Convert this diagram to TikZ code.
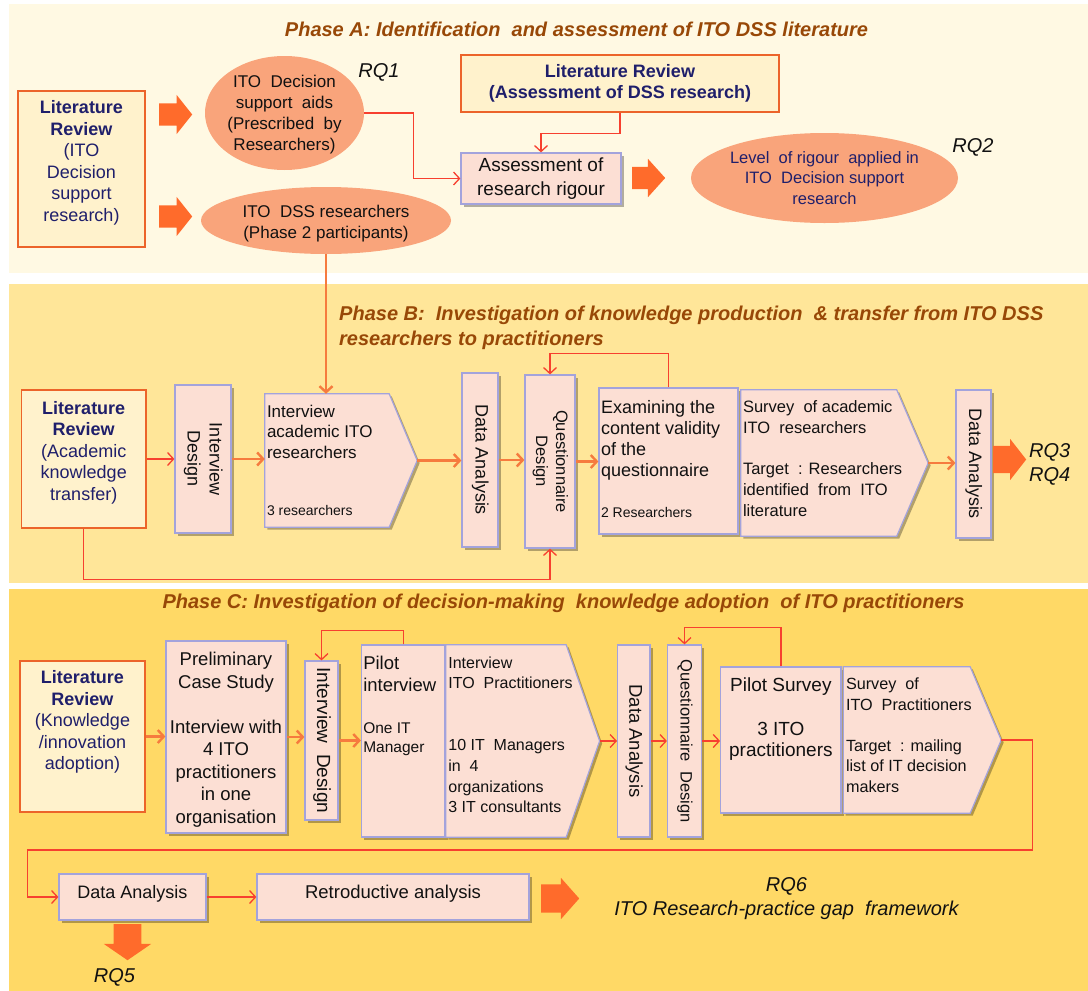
\documentclass[tikz,border=0pt]{standalone}
\usepackage{fontspec}
\setmainfont{Liberation Sans}
\usepackage{graphicx}
\usetikzlibrary{shapes.geometric,shapes.arrows,arrows.meta,shadows,calc}

\definecolor{panelA}{HTML}{FFF9E3}
\definecolor{panelB}{HTML}{FFE699}
\definecolor{panelC}{HTML}{FFD966}
\definecolor{litfill}{HTML}{FFF2CC}
\definecolor{litedge}{HTML}{EC642A}
\definecolor{procfill}{HTML}{FCDFD4}
\definecolor{procedge}{HTML}{A3A3DC}
\definecolor{ellfill}{HTML}{F9A47B}
\definecolor{arrowfill}{HTML}{FF6B2B}
\definecolor{olinec}{HTML}{F67B3E}
\definecolor{rlinec}{HTML}{F7402F}
\definecolor{titlec}{HTML}{984807}
\definecolor{navy}{HTML}{1F1F6B}
\definecolor{ink}{HTML}{111111}

% font size shorthand
\newcommand\fsz[2]{\fontsize{#1}{#2}\selectfont}
% fixed-size text block: width, height, first-baseline offset, alignment, text
\newcommand\bt[5]{\parbox[c][#2][t]{#1}{#4\rule{0pt}{#3}#5}}
% text running top to bottom
\newcommand\vtx[1]{\rotatebox{-90}{\begin{tabular}{@{}c@{}}#1\end{tabular}}}

\begin{document}
\begin{tikzpicture}[x=1pt,y=-1pt,
  litbox/.style={rectangle, draw=litedge, line width=1.6pt, fill=litfill, inner sep=0pt, text=navy, font=\fsz{18}{21.6}},
  proc/.style={rectangle, draw=procedge, line width=1.2pt, fill=procfill, inner sep=0pt, text=ink,
    drop shadow={shadow xshift=2.5pt, shadow yshift=-2.5pt, opacity=0.3, fill=black}},
  chev/.style={rectangle, inner sep=0pt},
  chevfill/.style={draw=procedge, line width=1.2pt, fill=procfill,
    drop shadow={shadow xshift=2.5pt, shadow yshift=-2.5pt, opacity=0.3, fill=black}},
  chevtext/.style={anchor=north west, inner sep=0pt, text=ink},
  ell/.style={ellipse, fill=ellfill, inner sep=0pt},
  barrow/.style={single arrow, fill=arrowfill, draw=none, inner xsep=0pt, anchor=tail},
  rq/.style={font=\fsz{20}{24}\itshape, text=ink, align=center, inner sep=0pt},
  phasetitle/.style={font=\fsz{20}{25}\bfseries\itshape, text=titlec, inner sep=0pt, align=left},
  olink/.style={draw=olinec, line width=2.4pt, -{Straight Barb[length=6pt,width=13pt]}},
  rlink/.style={draw=rlinec, line width=1.3pt, -{Straight Barb[length=6pt,width=13pt]}}
]
\useasboundingbox (0,0) rectangle (1088,991);
\fill[white] (0,0) rectangle (1088,991);

% phase panels
\fill[panelA] (9,4) rectangle (1088,273);
\fill[panelB] (9,284) rectangle (1088,583);
\fill[panelC] (9,589) rectangle (1088,991);

% ---------------- Phase A ----------------
\node[phasetitle] (tA) at (576.5,29) {Phase A: Identification\ \ and assessment of ITO DSS literature};

\node[litbox, minimum width=127pt, minimum height=156pt] (litA) at (81.5,169)
  {\bt{127pt}{156pt}{22.5pt}{\centering}{\textbf{Literature}\\\textbf{Review}\\(ITO\\Decision\\support\\research)}};

\node[barrow, inner ysep=11pt, single arrow head extend=8.5pt, single arrow tip angle=103, minimum height=33pt] (bA1) at (159,114.5) {};
\node[barrow, inner ysep=11pt, single arrow head extend=8.5pt, single arrow tip angle=103, minimum height=33pt] (bA2) at (159,216.5) {};

\node[ell, minimum width=159pt, minimum height=114pt] (eA1) at (284.5,113) {};
\node[font=\fsz{17}{20.8}, align=center, text=ink, inner sep=0pt] (eA1t) at ($(eA1.center)+(0,1.5)$)
  {ITO\ \ Decision\\support\ \ aids\\(Prescribed\ \ by\\Researchers)};
\node[rq] (rq1) at (379,72) {RQ1};

\node[ell, minimum width=250pt, minimum height=67pt] (eA2) at (326,220.5) {};
\node[font=\fsz{17}{21}, align=center, text=ink, inner sep=0pt] (eA2t) at ($(eA2.center)+(0,3)$)
  {ITO\ \ DSS researchers\\(Phase 2 participants)};

\node[litbox, minimum width=318pt, minimum height=57pt, font=\fsz{18}{20.4}\bfseries, align=center] (litA2) at (620,83.5)
  {Literature Review\\(Assessment of DSS research)};

\node[proc, minimum width=160pt, minimum height=51pt, font=\fsz{19}{24}, align=center] (assess) at (541,178.5)
  {Assessment of\\research rigour};

\node[barrow, inner ysep=10.85pt, single arrow head extend=8.15pt, single arrow tip angle=96, minimum height=33pt] (bA3) at (632,178) {};

\node[ell, minimum width=267pt, minimum height=90pt] (eA3) at (824.5,178) {};
\node[font=\fsz{16.5}{20.7}, align=center, text=navy, inner sep=0pt] (eA3t) at (eA3.center)
  {Level\ \ of rigour\ \ applied in\\ITO\ \ Decision support\\research};
\node[rq] (rq2) at (973,147) {RQ2};

\draw[rlink] (eA1.east) -- ++(49,0) |- (assess.west);
\draw[rlink] (litA2.south) -- ++(0,21) -| (assess.north);

% ---------------- Phase B ----------------
\node[phasetitle, anchor=west] (tB) at (339,327.5)
  {Phase B:\ \ Investigation of knowledge production\ \ \& transfer from ITO DSS\\researchers to practitioners};

\node[litbox, minimum width=124.5pt, minimum height=138pt] (litB) at (83.75,459)
  {\bt{124.5pt}{138pt}{24pt}{\centering}{\textbf{Literature}\\\textbf{Review}\\(Academic\\knowledge\\transfer)}};

\node[proc, minimum width=56pt, minimum height=148pt, font=\fsz{18}{22}] (idB) at (203,459) {\vtx{Interview\\Design}};

\node[chev, minimum width=152pt, minimum height=133pt] (iar) at (341,460.5) {};
\filldraw[chevfill] (iar.north west) -- ($(iar.north east)+(-28,0)$) -- (iar.east)
  -- ($(iar.south east)+(-28,0)$) -- (iar.south west) -- cycle;
\node[chevtext, font=\fsz{17}{20.7}] (iart) at ($(iar.north west)+(2,0)$)
  {\bt{125pt}{133pt}{23pt}{\raggedright}{Interview\\academic ITO\\researchers\par\vspace{41.4pt}\fsz{14}{16}3 researchers}};

\node[proc, minimum width=36pt, minimum height=174pt, font=\fsz{18}{22}] (daB1) at (480,460) {\vtx{Data Analysis}};
\node[proc, minimum width=50pt, minimum height=173pt, font=\fsz{16.5}{20}] (qdB) at (550,461.5) {\vtx{Questionnaire\\Design}};

\node[proc, minimum width=139pt, minimum height=146pt, font=\fsz{18}{21.1}] (exam) at (668.5,461)
  {\bt{135pt}{146pt}{25pt}{\raggedright}{Examining the\\content validity\\of the\\questionnaire\par\vspace{24.8pt}\fsz{14}{16}2 Researchers}};

\node[chev, minimum width=187pt, minimum height=146pt] (sacad) at (834.5,463) {};
\filldraw[chevfill] (sacad.north west) -- ($(sacad.north east)+(-31.5,0)$) -- (sacad.east)
  -- ($(sacad.south east)+(-31.5,0)$) -- (sacad.south west) -- cycle;
\node[chevtext, font=\fsz{16.5}{20.7}] (sacadt) at ($(sacad.north west)+(2,0)$)
  {\bt{180pt}{146pt}{22.7pt}{\raggedright}{Survey\ \ of academic\\ITO\ \ researchers\\[20.7pt]Target\ \ : Researchers\\identified\ \ from\ \ ITO\\literature}};

\node[proc, minimum width=35pt, minimum height=148pt, font=\fsz{18}{22}] (daB2) at (973.5,464) {\vtx{Data Analysis}};

\node[barrow, inner ysep=13.5pt, single arrow head extend=7pt, single arrow tip angle=104, minimum height=33pt] (bB) at (993,459.5) {};
\node[rq, anchor=west, align=left] (rq34) at (1029,464) {RQ3\\RQ4};

\draw[olink] (eA2.south) -- (eA2.south |- iar.north);
\draw[rlink] (litB.east) -- (litB.east -| idB.west);
\draw[olink] (idB.east) -- (idB.east -| iar.west);
\draw[olink] (iar.east) -- (iar.east -| daB1.west);
\draw[olink] (daB1.east) -- (daB1.east -| qdB.west);
\draw[olink] (qdB.east) -- (qdB.east -| exam.west);
\draw[olink] (sacad.east) -- (sacad.east -| daB2.west);
\draw[rlink] (exam.north) -- ++(0,-34) -| (qdB.north);
\draw[rlink] (litB.south) -- ++(0,51) -| (qdB.south);

% ---------------- Phase C ----------------
\node[phasetitle] (tC) at (563.5,603)
  {Phase C: Investigation of decision-making\ \ knowledge adoption\ \ of ITO practitioners};

\node[litbox, minimum width=125pt, minimum height=151pt] (litC) at (82.5,736.5)
  {\bt{125pt}{151pt}{22.5pt}{\centering}{\textbf{Literature}\\\textbf{Review}\\(Knowledge\\/innovation\\adoption)}};

\node[proc, minimum width=120pt, minimum height=192pt, font=\fsz{18.5}{22.5}] (pcs) at (226,737)
  {\bt{120pt}{192pt}{24.7pt}{\centering}{Preliminary\\Case Study\\[22.5pt]Interview with\\4 ITO\\practitioners\\in one\\organisation}};

\node[proc, minimum width=33pt, minimum height=159pt, font=\fsz{19}{22}] (idC) at (321.5,740.5) {\vtx{Interview\ \ Design}};

\node[proc, minimum width=83.5pt, minimum height=192pt, font=\fsz{18.5}{22.7}] (pilotI) at (403.25,741)
  {\bt{80pt}{192pt}{24pt}{\raggedright}{Pilot\\interview\par\vspace{23pt}\fsz{15.5}{19}One IT\\Manager}};

\node[chev, minimum width=153.4pt, minimum height=192pt] (itop) at (522.7,741) {};
\filldraw[chevfill] (itop.north west) -- ($(itop.north east)+(-33.4,0)$) -- (itop.east)
  -- ($(itop.south east)+(-33.4,0)$) -- (itop.south west) -- cycle;
\node[chevtext, font=\fsz{16}{20.7}] (itopt) at ($(itop.north west)+(2.4,0)$)
  {\bt{150pt}{192pt}{23pt}{\raggedright}{Interview\\ITO\ \ Practitioners\\[41.4pt]10 IT\ \ Managers\\in\ \ 4\\organizations\\3 IT consultants}};

\node[proc, minimum width=32.4pt, minimum height=192pt, font=\fsz{18.5}{22}] (daC) at (633.8,741) {\vtx{Data Analysis}};
\node[proc, minimum width=34pt, minimum height=192pt, font=\fsz{16.5}{20}] (qdC) at (684.5,741) {\vtx{Questionnaire\ \ Design}};

\node[proc, minimum width=120.3pt, minimum height=146pt, font=\fsz{19}{21.7}] (ps) at (780.85,740)
  {\bt{120.3pt}{146pt}{24.8pt}{\centering}{Pilot Survey\\[21.7pt]3 ITO\\practitioners}};

\node[chev, minimum width=157.6pt, minimum height=146pt] (sitop) at (922.2,740) {};
\filldraw[chevfill] (sitop.north west) -- ($(sitop.north east)+(-31,0)$) -- (sitop.east)
  -- ($(sitop.south east)+(-31,0)$) -- (sitop.south west) -- cycle;
\node[chevtext, font=\fsz{16.2}{20.5}] (sitopt) at ($(sitop.north west)+(2.6,0)$)
  {\bt{150pt}{146pt}{22.8pt}{\raggedright}{Survey\ \ of\\ITO\ \ Practitioners\\[20.5pt]Target\ \ : mailing\\list of IT decision\\makers}};

\node[proc, minimum width=147pt, minimum height=46pt, font=\fsz{18}{21}] (daD) at (132.5,897)
  {\bt{147pt}{46pt}{24.5pt}{\centering}{Data Analysis}};
\node[proc, minimum width=272pt, minimum height=46pt, font=\fsz{18.5}{21}] (retro) at (393,897)
  {\bt{272pt}{46pt}{24.5pt}{\centering}{Retroductive analysis}};

\node[barrow, inner ysep=14pt, single arrow head extend=6.5pt, single arrow tip angle=97, minimum height=38pt] (bC1) at (541,898.5) {};
\node[rq] (rq6) at (786.5,899) {RQ6\\ITO Research-practice gap\ \ framework};

\node[barrow, rotate=-90, inner ysep=13.75pt, single arrow head extend=9.75pt, single arrow tip angle=111, minimum height=36pt] (bC2) at (127.5,924) {};
\node[rq] (rq5) at (114.5,977) {RQ5};

\draw[olink] (litC.east) -- (litC.east -| pcs.west);
\draw[olink] (pcs.east) -- (pcs.east -| idC.west);
\draw[olink] (idC.east) -- (idC.east -| pilotI.west);
\draw[rlink] (pilotI.north) -- ++(0,-14) -| (idC.north);
\draw[rlink] (itop.east) -- (itop.east -| daC.west);
\draw[rlink] (daC.east) -- (daC.east -| qdC.west);
\draw[rlink] (qdC.east) -- (qdC.east -| ps.west);
\draw[rlink] (ps.north) -- ++(0,-39) -| (qdC.north);
\draw[rlink] (sitop.east) -- ++(31,0) |- ($(daD.west)+(-31,-47)$) |- (daD.west);
\draw[rlink] (daD.east) -- (retro.west);
\end{tikzpicture}
\end{document}
